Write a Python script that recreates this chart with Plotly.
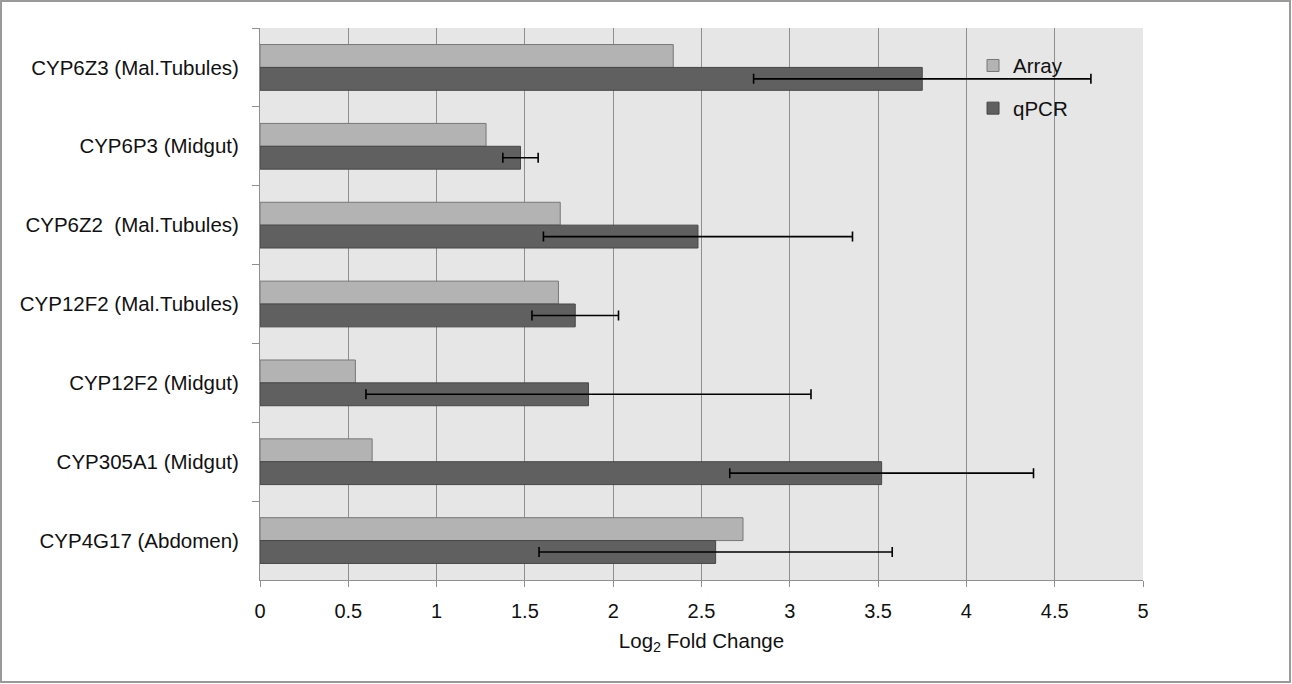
import plotly.graph_objects as go

genes = ['CYP6Z3 (Mal.Tubules)', 'CYP6P3 (Midgut)', 'CYP6Z2  (Mal.Tubules)',
         'CYP12F2 (Mal.Tubules)', 'CYP12F2 (Midgut)', 'CYP305A1 (Midgut)',
         'CYP4G17 (Abdomen)']
array_fc = [2.34, 1.28, 1.70, 1.69, 0.54, 0.635, 2.735]
qpcr_fc = [3.75, 1.475, 2.48, 1.785, 1.86, 3.52, 2.58]
qpcr_err = [0.955, 0.10, 0.875, 0.245, 1.26, 0.86, 1.0]
x_ticks = [0, 0.5, 1, 1.5, 2, 2.5, 3, 3.5, 4, 4.5, 5]

font = 'Liberation Sans, Arial, sans-serif'

fig = go.Figure()

fig.add_trace(go.Bar(
    y=genes, x=array_fc, orientation='h', name='Array',
    legendgroup='a',
    marker=dict(color='#b3b3b3', line=dict(color='#777777', width=1)),
))
fig.add_trace(go.Bar(
    y=genes, x=qpcr_fc, orientation='h', name='qPCR',
    legendgroup='q',
    marker=dict(color='#606060', line=dict(color='#474747', width=1)),
    error_x=dict(type='data', array=qpcr_err, visible=True,
                 color='black', thickness=1.6, width=5),
))

# grey frame round the whole picture
fig.add_shape(type='rect', xref='paper', yref='paper',
              x0=-0.2933, x1=1.1665, y0=-0.1848, y1=1.0489,
              line=dict(color='#9a9a9a', width=2), fillcolor='rgba(0,0,0,0)',
              layer='below')

fig.update_layout(
    width=1292, height=684,
    margin=dict(l=260, r=149, t=28, b=104),
    paper_bgcolor='white',
    plot_bgcolor='#e6e6e6',
    barmode='group',
    bargap=0.42,
    bargroupgap=0,
    font=dict(family=font, size=20.5, color='#111111'),
    showlegend=True,
    legend=dict(x=0.8075, y=0.968, xanchor='left', yanchor='top',
                bgcolor='rgba(0,0,0,0)', traceorder='grouped',
                tracegroupgap=13, font=dict(size=20.5)),
    xaxis=dict(
        range=[0, 5], tickvals=x_ticks, ticktext=[f'{v:g}' for v in x_ticks],
        tickfont=dict(size=20),
        showgrid=True, gridcolor='#8f8f8f', gridwidth=1,
        showline=True, linecolor='#8f8f8f', linewidth=1,
        ticks='outside', ticklen=6, tickcolor='#8f8f8f',
        ticklabelstandoff=7,
        zeroline=False,
        title=dict(text='Log<sub>2</sub> Fold Change', standoff=12,
                   font=dict(size=20.5)),
    ),
    yaxis=dict(
        autorange='reversed', type='category',
        showline=True, linecolor='#8f8f8f', linewidth=1,
        ticks='outside', ticklen=7, tickcolor='#8f8f8f',
        tickson='boundaries', showgrid=False,
        ticklabelstandoff=16,
    ),
)

fig.write_html('out.html', config={'displayModeBar': False},
               post_script="document.body.style.margin='0';")
